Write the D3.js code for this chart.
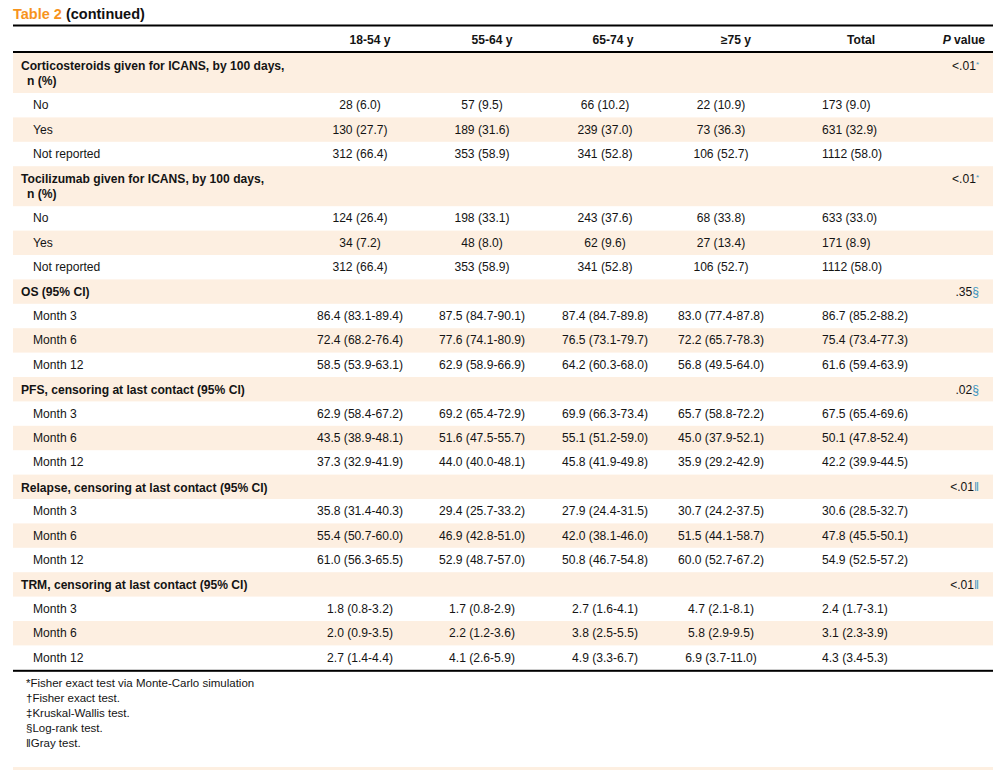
<!DOCTYPE html>
<html>
<head>
<meta charset="utf-8">
<script src="https://cdn.jsdelivr.net/npm/d3@7"></script>
<style>
  body { margin: 0; background: #fff; }
  svg { font-family: "Liberation Sans", Arial, Helvetica, sans-serif; }
</style>
</head>
<body>
<svg id="tbl" width="999" height="777"></svg>
<script>
const columns = ["18-54 y", "55-64 y", "65-74 y", "\u226575 y", "Total"];

const groupTitles = [
    ["Corticosteroids given for ICANS, by 100 days,", "n (%)"],
    ["Tocilizumab given for ICANS, by 100 days,", "n (%)"],
    ["OS (95% CI)"],
    ["PFS, censoring at last contact (95% CI)"],
    ["Relapse, censoring at last contact (95% CI)"],
    ["TRM, censoring at last contact (95% CI)"]
];
const pValues = ["<.01", "<.01", ".35", ".02", "<.01", "<.01"];
const pNotes = ["*", "*", "\u00a7", "\u00a7", "\u2016", "\u2016"];

const yesNoLabels = ["No", "Yes", "Not reported"];
const monthLabels = ["Month 3", "Month 6", "Month 12"];

const corticoValues = [
    ["28 (6.0)", "57 (9.5)", "66 (10.2)", "22 (10.9)", "173 (9.0)"],
    ["130 (27.7)", "189 (31.6)", "239 (37.0)", "73 (36.3)", "631 (32.9)"],
    ["312 (66.4)", "353 (58.9)", "341 (52.8)", "106 (52.7)", "1112 (58.0)"]
];
const tociValues = [
    ["124 (26.4)", "198 (33.1)", "243 (37.6)", "68 (33.8)", "633 (33.0)"],
    ["34 (7.2)", "48 (8.0)", "62 (9.6)", "27 (13.4)", "171 (8.9)"],
    ["312 (66.4)", "353 (58.9)", "341 (52.8)", "106 (52.7)", "1112 (58.0)"]
];
const osValues = [
    ["86.4 (83.1-89.4)", "87.5 (84.7-90.1)", "87.4 (84.7-89.8)", "83.0 (77.4-87.8)", "86.7 (85.2-88.2)"],
    ["72.4 (68.2-76.4)", "77.6 (74.1-80.9)", "76.5 (73.1-79.7)", "72.2 (65.7-78.3)", "75.4 (73.4-77.3)"],
    ["58.5 (53.9-63.1)", "62.9 (58.9-66.9)", "64.2 (60.3-68.0)", "56.8 (49.5-64.0)", "61.6 (59.4-63.9)"]
];
const pfsValues = [
    ["62.9 (58.4-67.2)", "69.2 (65.4-72.9)", "69.9 (66.3-73.4)", "65.7 (58.8-72.2)", "67.5 (65.4-69.6)"],
    ["43.5 (38.9-48.1)", "51.6 (47.5-55.7)", "55.1 (51.2-59.0)", "45.0 (37.9-52.1)", "50.1 (47.8-52.4)"],
    ["37.3 (32.9-41.9)", "44.0 (40.0-48.1)", "45.8 (41.9-49.8)", "35.9 (29.2-42.9)", "42.2 (39.9-44.5)"]
];
const relapseValues = [
    ["35.8 (31.4-40.3)", "29.4 (25.7-33.2)", "27.9 (24.4-31.5)", "30.7 (24.2-37.5)", "30.6 (28.5-32.7)"],
    ["55.4 (50.7-60.0)", "46.9 (42.8-51.0)", "42.0 (38.1-46.0)", "51.5 (44.1-58.7)", "47.8 (45.5-50.1)"],
    ["61.0 (56.3-65.5)", "52.9 (48.7-57.0)", "50.8 (46.7-54.8)", "60.0 (52.7-67.2)", "54.9 (52.5-57.2)"]
];
const trmValues = [
    ["1.8 (0.8-3.2)", "1.7 (0.8-2.9)", "2.7 (1.6-4.1)", "4.7 (2.1-8.1)", "2.4 (1.7-3.1)"],
    ["2.0 (0.9-3.5)", "2.2 (1.2-3.6)", "3.8 (2.5-5.5)", "5.8 (2.9-9.5)", "3.1 (2.3-3.9)"],
    ["2.7 (1.4-4.4)", "4.1 (2.6-5.9)", "4.9 (3.3-6.7)", "6.9 (3.7-11.0)", "4.3 (3.4-5.3)"]
];

const footnotes = [
    "*Fisher exact test via Monte-Carlo simulation",
    "\u2020Fisher exact test.",
    "\u2021Kruskal-Wallis test.",
    "\u00a7Log-rank test.",
    "\u2016Gray test."
];

// group blocks: labels + values
const blocks = [
    { labels: yesNoLabels, values: corticoValues },
    { labels: yesNoLabels, values: tociValues },
    { labels: monthLabels, values: osValues },
    { labels: monthLabels, values: pfsValues },
    { labels: monthLabels, values: relapseValues },
    { labels: monthLabels, values: trmValues }
];

// flatten into rows
const rows = [];
blocks.forEach((b, g) => {
    rows.push({ type: "group", title: groupTitles[g], p: pValues[g], note: pNotes[g] });
    b.labels.forEach((lab, i) => rows.push({ type: "item", label: lab, values: b.values[i] }));
});

const svg = d3.select("#tbl");
const left = 13, right = 993;
const band = "#fdefe1";
const ink = "#141414";
const noteColor = "#3a94c0";
const fs = "12.1px";

const rowH = 24.4, groupH = 40;
const heights = rows.map(r => r.type === "group" && r.title.length > 1 ? groupH : rowH);
const tops = [53, ...d3.cumsum(heights).map(v => 53 + v)];
const tableBottom = tops[rows.length];

// column positions
const headerX = d3.scaleOrdinal().domain(columns).range([370, 492, 613, 736, 861]);
const cellX = d3.scaleOrdinal().domain(columns).range([360, 482, 605, 721, 822]);
const cellAnchor = d3.scaleOrdinal().domain(columns).range(["middle", "middle", "middle", "middle", "start"]);

// title
const title = svg.append("text")
    .attr("x", left)
    .attr("y", 19)
    .attr("font-size", "14.5px")
    .attr("font-weight", "bold");
title.append("tspan").attr("fill", "#f7941d").text("Table 2 ");
title.append("tspan").attr("fill", "#111").text("(continued)");

// row bands
svg.selectAll("rect.band")
    .data(rows.map((r, i) => i).filter(i => i % 2 === 0))
    .enter()
    .append("rect")
    .attr("class", "band")
    .attr("x", left)
    .attr("width", right - left)
    .attr("y", i => tops[i])
    .attr("height", i => heights[i])
    .attr("fill", band);

// rules
svg.append("rect").attr("x", left).attr("width", right - left).attr("y", 24.5).attr("height", 2).attr("fill", "#000");
svg.append("rect").attr("x", left).attr("width", right - left).attr("y", 51).attr("height", 2).attr("fill", "#000");
svg.append("rect").attr("x", left).attr("width", right - left).attr("y", tableBottom).attr("height", 2).attr("fill", "#000");

// header
svg.selectAll("text.colhead")
    .data(columns)
    .enter()
    .append("text")
    .attr("class", "colhead")
    .attr("x", d => headerX(d))
    .attr("y", 44)
    .attr("text-anchor", "middle")
    .attr("font-size", fs)
    .attr("font-weight", "bold")
    .attr("fill", ink)
    .text(d => d);

const pHead = svg.append("text")
    .attr("x", 985)
    .attr("y", 44)
    .attr("text-anchor", "end")
    .attr("font-size", fs)
    .attr("font-weight", "bold")
    .attr("fill", ink);
pHead.append("tspan").attr("font-style", "italic").text("P");
pHead.append("tspan").text(" value");

// body
rows.forEach((r, i) => {
    const top = tops[i];
    if (r.type === "group") {
        r.title.forEach((line, j) => {
            svg.append("text")
                .attr("x", j === 0 ? 21 : 27)
                .attr("y", top + 17 + j * 14.5)
                .attr("font-size", fs)
                .attr("font-weight", "bold")
                .attr("fill", ink)
                .text(line);
        });
        const pt = svg.append("text")
            .attr("x", 979)
            .attr("y", top + 16.5)
            .attr("text-anchor", "end")
            .attr("font-size", fs)
            .attr("fill", ink);
        pt.append("tspan").text(r.p);
        if (r.note === "*") {
            pt.append("tspan").attr("fill", noteColor).attr("font-size", "8px").attr("dy", -3).text(r.note);
        } else {
            pt.append("tspan").attr("fill", noteColor).text(r.note);
        }
    } else {
        const base = top + heights[i] / 2 + 4;
        svg.append("text")
            .attr("x", 33)
            .attr("y", base)
            .attr("font-size", fs)
            .attr("fill", ink)
            .text(r.label);
        svg.selectAll(null)
            .data(columns.map((c, k) => ({ c, v: r.values[k] })))
            .enter()
            .append("text")
            .attr("x", d => cellX(d.c))
            .attr("y", base)
            .attr("text-anchor", d => cellAnchor(d.c))
            .attr("font-size", fs)
            .attr("fill", ink)
            .text(d => d.v);
    }
});

// footnotes
svg.selectAll("text.foot")
    .data(footnotes)
    .enter()
    .append("text")
    .attr("class", "foot")
    .attr("x", 26)
    .attr("y", (d, i) => tableBottom + 17 + i * 15)
    .attr("font-size", "11.5px")
    .attr("fill", ink)
    .text(d => d);

// faint closing band
svg.append("rect").attr("x", left).attr("width", right - left).attr("y", 767).attr("height", 3).attr("fill", band);
</script>
</body>
</html>
